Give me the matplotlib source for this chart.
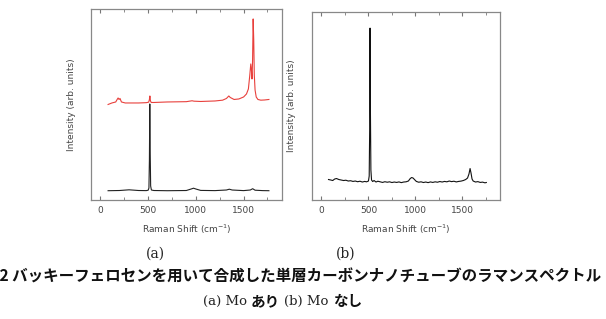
import matplotlib
matplotlib.use('Agg')
import matplotlib.pyplot as plt
from matplotlib.ticker import MultipleLocator

########################### Data ###########################

# (a) Mo present: red (upper) and black (lower) spectra, intensity in arb. units
shift_a_red = [80, 120, 160, 175, 185, 195, 205, 220, 260, 300, 400, 480, 505, 512, 518, 524, 532,
               560, 700, 900, 960, 980, 1050, 1200, 1280, 1320, 1345, 1360, 1400, 1450, 1500, 1530,
               1550, 1565, 1575, 1582, 1588, 1594, 1600, 1606, 1612, 1620, 1632, 1650, 1680, 1720, 1765]
inten_a_red = [95.5, 97, 98, 100.5, 102, 100.5, 101.5, 98, 97, 97, 97, 97.3, 97.8, 100, 104, 99, 97.5,
               97.5, 98, 98.3, 99.2, 98.8, 98.5, 99, 99.8, 101.5, 104, 102.5, 100.5, 101, 103, 106,
               111, 125, 136, 130, 121, 140, 181, 160, 125, 110, 103, 100.5, 99.8, 100, 100.5]

shift_a_blk = [80, 200, 300, 400, 480, 500, 508, 513, 517, 521, 526, 534, 560, 700, 900, 950, 975,
               1000, 1050, 1200, 1320, 1350, 1380, 1500, 1570, 1595, 1620, 1700, 1765]
inten_a_blk = [9.3, 9.5, 10.2, 9.5, 9.4, 9.8, 12, 40, 96, 50, 14, 10, 9.5, 9.3, 9.5, 11, 11.8,
               11, 9.6, 9.4, 10, 10.8, 10, 9.4, 10, 11.3, 9.8, 9.4, 9.3]

# (b) Mo absent
shift_b = [75, 100, 120, 140, 160, 185, 210, 235, 260, 285, 310, 335, 360, 385, 410, 435, 460, 480,
           500, 508, 513, 517, 521, 526, 533, 545, 560, 580, 600, 625, 650, 675, 700, 725, 750, 775,
           800, 825, 850, 875, 900, 925, 945, 960, 975, 990, 1010, 1035, 1060, 1085, 1110, 1135,
           1160, 1185, 1210, 1235, 1260, 1285, 1310, 1335, 1360, 1385, 1410, 1435, 1460, 1485,
           1510, 1535, 1555, 1570, 1582, 1592, 1603, 1615, 1640, 1665, 1690, 1715, 1740, 1755]
inten_b = [20.5, 20, 19.5, 21, 21.5, 20.5, 20, 19.5, 19.8, 19, 19.3, 18.6, 19, 18.3, 18.8, 18, 18.6, 18.2,
           19, 24, 70, 172, 90, 30, 20, 18.5, 19.5, 18, 18.8, 18.2, 17.6, 18.3, 17.8, 18.2, 17.5, 18,
           17.6, 18.1, 17.4, 18, 18.2, 19, 21.5, 22.5, 22, 20.5, 18.6, 17.8, 18.2, 17.5, 18, 17.4,
           18.1, 17.6, 18.2, 17.8, 18.5, 18, 18.6, 18.2, 19, 18.4, 18.8, 18.1, 18.6, 18.9,
           19.5, 20.5, 22, 26, 31.5, 27, 21, 19, 18, 18.4, 17.6, 17.9, 17.2, 17.5]

panel_labels = ['(a)', '(b)']
caption_title = '図2 バッキーフェロセンを用いて合成した単層カーボンナノチューブのラマンスペクトル'
caption_parts = [('(a) Mo', 'serif'), ('あり', 'jp'), ('(b) Mo', 'serif'), ('なし', 'jp')]

########################### Plot ###########################

fig = plt.figure(figsize=(6.06, 3.19), dpi=100)
ax1 = fig.add_axes([0.150, 0.373, 0.315, 0.599])
ax2 = fig.add_axes([0.515, 0.373, 0.310, 0.589])

ax1.plot(shift_a_red, inten_a_red, '-', color='#e8403c', lw=0.8)
ax1.plot(shift_a_blk, inten_a_blk, '-', color='#222222', lw=0.8)
ax1.set_ylim(0, 191)
ax2.plot(shift_b, inten_b, '-', color='#111111', lw=0.8)
ax2.set_ylim(0, 188)

for ax, xl in zip([ax1, ax2], [-0.078, -0.085]):
    ax.set_xlim(-100, 1900)
    ax.xaxis.set_major_locator(MultipleLocator(500))
    ax.xaxis.set_minor_locator(MultipleLocator(250))
    ax.tick_params(axis='x', which='both', direction='in', top=True, bottom=True,
                   color='#777777', labelsize=6.5, labelcolor='#444444', pad=4)
    ax.tick_params(axis='x', which='major', length=3, width=0.8)
    ax.tick_params(axis='x', which='minor', length=2, width=0.6)
    ax.set_yticks([])
    for s in ax.spines.values():
        s.set_color('#888888')
        s.set_linewidth(0.9)
    ax.set_xlabel(r'Raman Shift (cm$^{-1}$)', fontsize=6.5, color='#444444', labelpad=6)
    ax.set_ylabel('Intensity (arb. units)', fontsize=6.5, color='#444444')
    ax.yaxis.set_label_coords(xl, 0.5)

fig.text(155/606, 1-254/319, panel_labels[0], ha='center', va='center', fontsize=10,
         family='DejaVu Serif', color='#222222')
fig.text(346/606, 1-254/319, panel_labels[1], ha='center', va='center', fontsize=10,
         family='DejaVu Serif', color='#222222')

fig.text(-16/606, 1-277/319, caption_title, ha='left', va='center', fontsize=11.2,
         family=['Noto Sans CJK JP', 'DejaVu Sans'], weight='bold', color='#111111')

# bottom caption line: lay the pieces out one after another
renderer = fig.canvas.get_renderer()
px = 203
for txt, kind in caption_parts:
    if kind == 'serif':
        t = fig.text(px/606, 1-301/319, txt, ha='left', va='center', fontsize=9.5,
                     family='DejaVu Serif', color='#222222')
    else:
        t = fig.text(px/606, 1-301/319, txt, ha='left', va='center', fontsize=10.5,
                     family='Noto Sans CJK JP', weight='bold', color='#111111')
    px += t.get_window_extent(renderer).width + 4

plt.savefig('out.png', dpi=100)
